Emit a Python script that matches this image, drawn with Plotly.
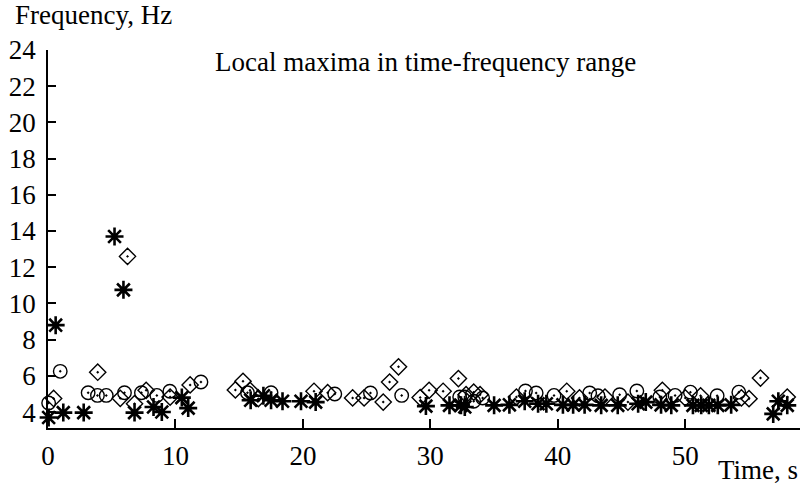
import plotly.graph_objects as go

# Stars (asterisks)
star_t = [0.05, 0.6, 1.2, 2.8, 5.22, 5.92, 6.79, 8.28, 8.93, 10.5, 11.0, 15.9, 16.9, 17.5,
          18.4, 19.85, 21.0, 29.65, 31.5, 32.4, 32.7, 35.0, 36.2, 37.4, 38.45, 39.1, 40.4,
          41.2, 42.1, 43.4, 44.7, 46.3, 46.9, 48.1, 48.9, 50.6, 51.25, 51.85, 52.55, 53.6,
          56.9, 57.3, 58.0]
star_f = [3.7, 8.8, 3.97, 3.97, 13.7, 10.75, 3.97, 4.28, 4.0, 4.8, 4.22, 4.65, 4.9, 4.65,
          4.6, 4.6, 4.55, 4.33, 4.37, 4.37, 4.28, 4.37, 4.4, 4.6, 4.46, 4.46, 4.4,
          4.4, 4.4, 4.37, 4.37, 4.46, 4.55, 4.4, 4.37, 4.37, 4.37, 4.37, 4.37, 4.4,
          3.9, 4.6, 4.37]

# Circles with dot
circ_t = [0.05, 0.96, 3.15, 3.88, 4.57, 6.0, 7.33, 8.54, 9.56, 12.0, 15.65, 17.5, 22.5,
          25.3, 27.75, 32.3, 32.7, 33.4, 34.1, 37.46, 38.3, 39.7, 42.5, 43.15, 44.85, 46.2,
          48.0, 49.2, 50.4, 52.5, 54.2]
circ_f = [4.5, 6.25, 5.07, 4.92, 4.92, 5.07, 5.07, 4.92, 5.15, 5.66, 5.07, 5.07, 5.0,
          5.05, 4.92, 4.83, 4.83, 4.6, 4.78, 5.16, 5.05, 4.92, 5.05, 4.9, 4.96, 5.16,
          4.83, 4.92, 5.1, 4.9, 5.1]

# Diamonds with dot
diam_t = [0.44, 3.9, 5.67, 6.24, 6.79, 7.7, 9.58, 11.15, 14.7, 15.3, 15.85, 16.5, 20.87,
          21.94, 23.9, 24.8, 26.3, 26.8, 27.5, 29.2, 29.9, 31.0, 32.2, 32.8, 33.4, 33.9,
          36.75, 40.7, 41.7, 43.7, 45.5, 48.2, 50.0, 51.2, 54.4, 55.0, 55.9, 58.0]
diam_f = [4.75, 6.2, 4.76, 12.6, 4.46, 5.2, 4.83, 5.5, 5.22, 5.7, 5.2, 4.74, 5.15,
          5.07, 4.78, 4.78, 4.55, 5.66, 6.5, 4.8, 5.2, 5.15, 5.85, 4.96, 5.1, 4.96,
          4.83, 5.15, 4.78, 4.83, 4.55, 5.2, 4.78, 4.9, 4.78, 4.74, 5.88, 4.83]

x_ticks = [0, 10, 20, 30, 40, 50]
y_ticks = [4, 6, 8, 10, 12, 14, 16, 18, 20, 22, 24]

FONT = "Liberation Serif"
FS = 27
fig = go.Figure()
fig.add_trace(go.Scatter(x=diam_t, y=diam_f, mode="markers", cliponaxis=False,
                         marker=dict(symbol="diamond-open-dot", size=12.5, color="black",
                                     line=dict(width=1.4, color="black"))))
fig.add_trace(go.Scatter(x=circ_t, y=circ_f, mode="markers", cliponaxis=False,
                         marker=dict(symbol="circle-open-dot", size=13.5, color="black",
                                     line=dict(width=1.4, color="black"))))
fig.add_trace(go.Scatter(x=star_t, y=star_f, mode="markers", cliponaxis=False,
                         marker=dict(symbol="asterisk-open", size=15, color="black",
                                     line=dict(width=2.6, color="black"))))

axis_common = dict(showline=True, linecolor="black", linewidth=1.5, ticks="inside",
                   tickcolor="black", tickwidth=1.5, showgrid=False, zeroline=False,
                   tickfont=dict(family=FONT, size=FS, color="black"))
fig.update_xaxes(range=[0, 59], tickvals=x_ticks, ticklen=9, ticklabelstandoff=3, **axis_common)
fig.update_yaxes(range=[3.12, 24], tickvals=y_ticks, ticklen=8, ticklabelstandoff=5, **axis_common)

fig.update_layout(
    width=802, height=489, showlegend=False,
    margin=dict(l=48, r=2, t=50, b=61),
    plot_bgcolor="white", paper_bgcolor="white",
    font=dict(family=FONT, size=FS, color="black"),
    annotations=[
        dict(text="Frequency, Hz", xref="paper", yref="paper", x=-0.046, y=1.0927,
             xanchor="left", yanchor="middle", showarrow=False,
             font=dict(family=FONT, size=FS, color="black")),
        dict(text="Time, s", xref="paper", yref="paper", x=1.0, y=-0.112,
             xanchor="right", yanchor="middle", showarrow=False,
             font=dict(family=FONT, size=FS, color="black")),
        dict(text="Local maxima in time-frequency range", xref="paper", yref="paper",
             x=0.5015, y=0.968, xanchor="center", yanchor="middle", showarrow=False,
             font=dict(family=FONT, size=FS, color="black")),
    ],
)

fig.write_html("out.html")
